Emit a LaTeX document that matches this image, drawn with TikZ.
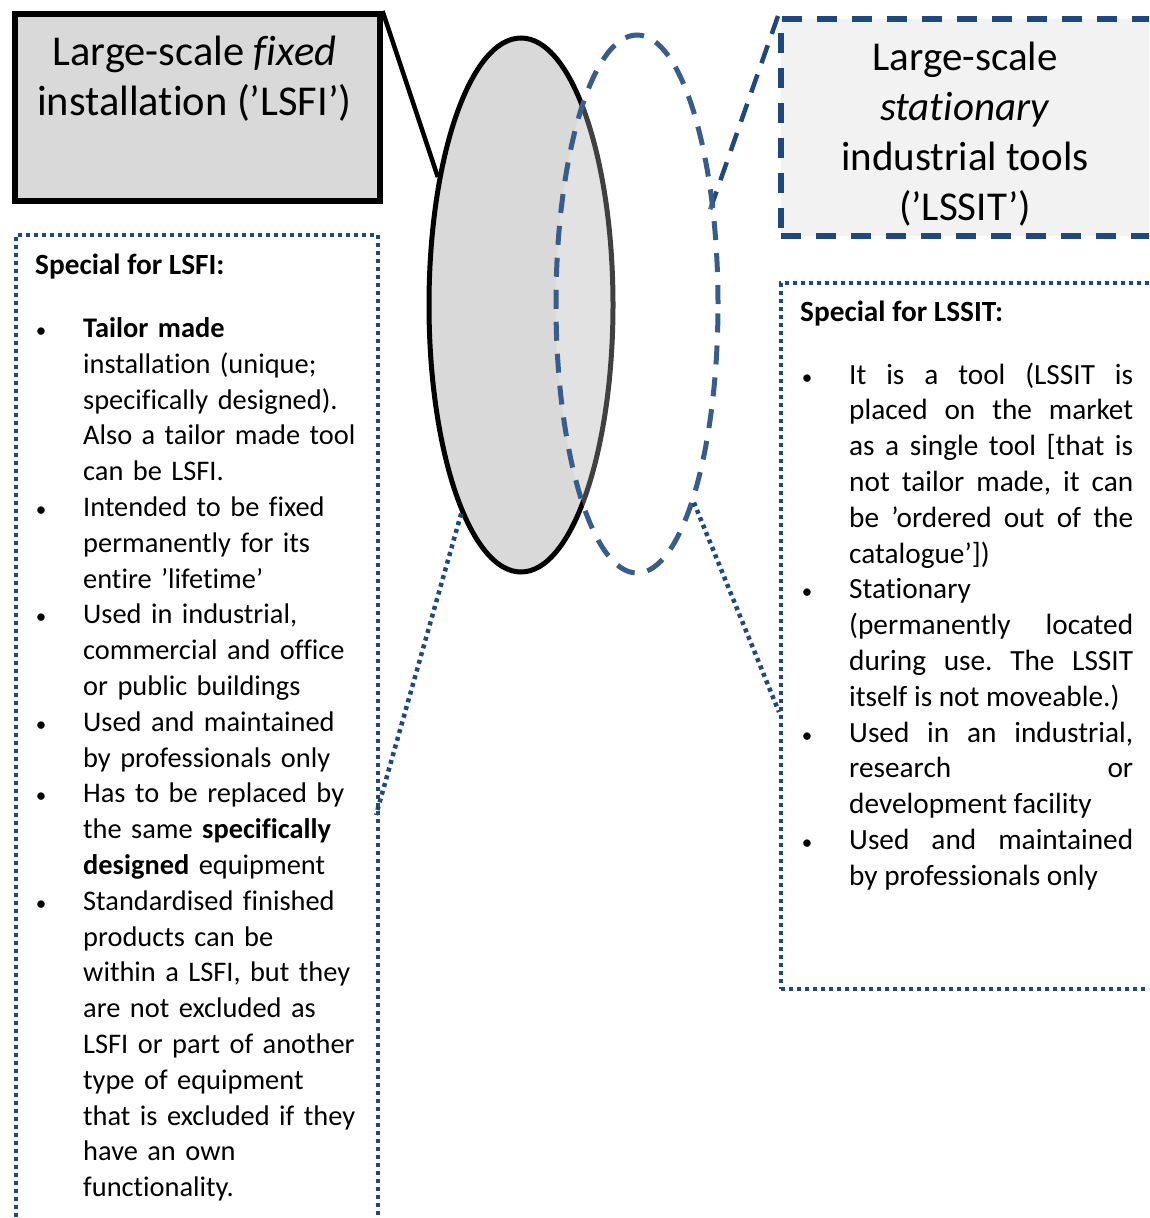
\documentclass[tikz,border=0pt]{standalone}
\usepackage{fontspec}
\setmainfont{Carlito}[Ligatures={NoCommon}]
\usetikzlibrary{shapes.geometric}
\definecolor{navy}{HTML}{1F497D}
\definecolor{ellblue}{HTML}{385D8A}
\definecolor{lgray}{HTML}{D9D9D9}
\definecolor{vlgray}{HTML}{F2F2F2}
\frenchspacing
\newcommand{\bodyfnt}{\fontsize{29.3}{35.8}\selectfont}
\newcommand{\lbodyfnt}{\fontsize{28.4}{35.8}\selectfont}
\newcommand{\titlefnt}{\fontsize{41}{50}\selectfont}
\newcommand{\ltitlefnt}{\fontsize{42.5}{50}\selectfont}
\newcommand{\itm}{\par\noindent\llap{\makebox[15pt]{\fontsize{21}{21}\selectfont•}\hspace{34.5pt}}\strut}
\begin{document}
\begin{tikzpicture}[x=1pt,y=-1pt,
  lsfibox/.style={draw=black, line width=5.5pt, fill=lgray, inner sep=0, anchor=north west},
  lssitbox/.style={draw=navy, line width=5.5pt, fill=vlgray, dash pattern=on 20pt off 15pt, inner sep=0, anchor=north west},
  dotbox/.style={draw=navy, line width=4pt, dash pattern=on 4pt off 4pt, inner sep=0, anchor=north west},
  lellipse/.style={ellipse, draw=black, line width=5pt, fill=lgray, inner sep=0},
  rellipse/.style={ellipse, draw=ellblue, line width=5pt, dash pattern=on 19pt off 13pt, fill=white, fill opacity=0.25, draw opacity=1, inner sep=0},
  solidcon/.style={draw=black, line width=4.5pt},
  dashcon/.style={draw=navy, line width=4.5pt, dash pattern=on 19pt off 12pt},
  dotcon/.style={draw=navy, line width=4.5pt, dash pattern=on 4pt off 4pt},
  titletext/.style={inner sep=0, align=center},
  bodytext/.style={inner sep=0, font=\bodyfnt},
]
\clip (0,0) rectangle (1149,1218);
% boxes
\node[lsfibox, minimum width=365pt, minimum height=187pt] (lsfi) at (12,11) {};
\node[lssitbox, minimum width=392pt, minimum height=217pt] (lssit) at (778,16) {};
\node[dotbox, minimum width=362pt, minimum height=1010pt] (lbox) at (14,233) {};
\node[dotbox, minimum width=391pt, minimum height=706pt] (rbox) at (779,281) {};
\coordinate (lboxpt) at (376,815);
\coordinate (rboxpt) at (779,712);
% titles
\node[titletext, font=\ltitlefnt, anchor=north] (lsfititle) at (194.5,30) {\strut Large-scale \emph{fixed}\\installation (’LSFI’)};
\node[titletext, font=\titlefnt, anchor=north] (lssittitle) at (965,35) {\strut Large-scale\\\emph{stationary}\\industrial tools\\(’LSSIT’)};
% ellipses
\node[lellipse, minimum width=184pt, minimum height=534pt] (lell) at (521,305) {};
% connectors
\draw[solidcon] (lsfi.north east) -- (lell.123);
\draw[dashcon] (lssit.north west) -- (710,210) coordinate (dashend);
\draw[dotcon] (lell.254) -- (lboxpt);
\node[rellipse, minimum width=162pt, minimum height=538pt] (rell) at (637,304) {};
\draw[dotcon] (rell.286) -- (rboxpt);
% headers
\node[bodytext, anchor=north west] (lhead) at (35,249) {\strut\textbf{Special for LSFI:}};
\node[bodytext, anchor=north west] (rhead) at (800,296) {\strut\textbf{Special for LSSIT:}};
% left list
\node[bodytext, font=\lbodyfnt, anchor=north west, text width=300pt, align=left] (llist) at (83,301.4) {%
\itm\textbf{Tailor made}\\ installation (unique;\\ specifically designed).\\ Also a tailor made tool\\ can be LSFI.
\itm Intended to be fixed\\ permanently for its\\ entire ’lifetime’
\itm Used in industrial,\\ commercial and office\\ or public buildings
\itm Used and maintained\\ by professionals only
\itm Has to be replaced by\\ the same \textbf{specifically}\\ \textbf{designed} equipment
\itm Standardised finished\\ products can be\\ within a LSFI, but they\\ are not excluded as\\ LSFI or part of another\\ type of equipment\\ that is excluded if they\\ have an own\\ functionality.};
% right list
\node[bodytext, anchor=north west, text width=284pt, align=justify] (rlist) at (849,348) {%
\tolerance=10000 \hbadness=10000
\itm It is a tool (LSSIT is\linebreak placed on the market\linebreak as a single tool [that is\linebreak not tailor made, it can\linebreak be ’ordered out of the\linebreak catalogue’])
\itm Stationary\hfill\break (permanently located\linebreak during use. The LSSIT\linebreak itself is not moveable.)
\itm Used in an industrial,\linebreak research or\linebreak development facility
\itm Used and maintained\linebreak by professionals only};
\end{tikzpicture}
\end{document}
